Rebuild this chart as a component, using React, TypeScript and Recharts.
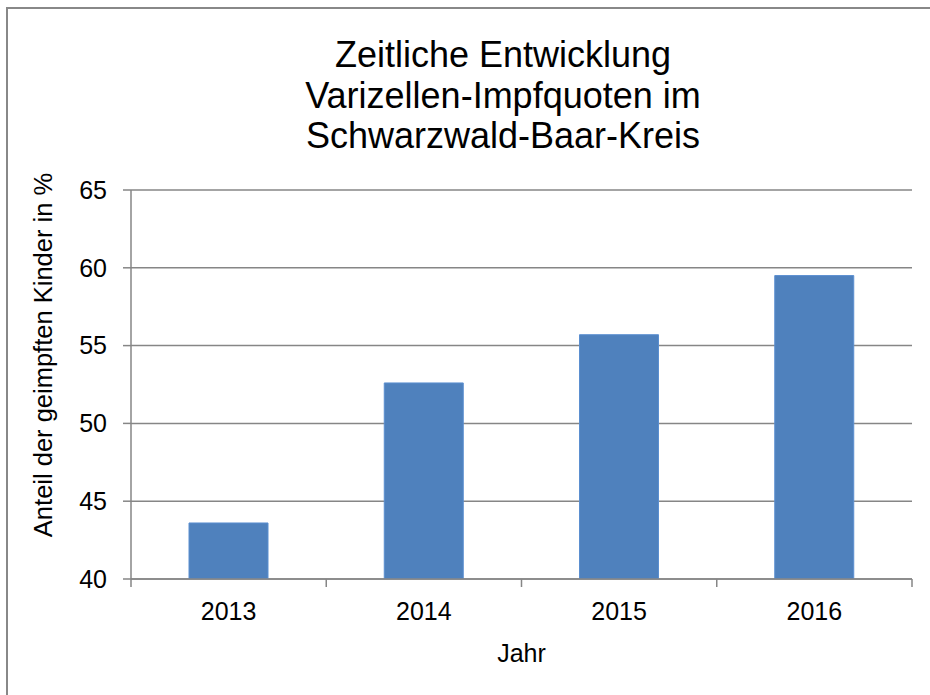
import React from "react";
import { BarChart, Bar, XAxis, YAxis, CartesianGrid } from "recharts";

const years = ["2013", "2014", "2015", "2016"];
const quotes = [43.6, 52.6, 55.7, 59.5];
const yTicks = [40, 45, 50, 55, 60, 65];
const titleLines = ["Zeitliche Entwicklung", "Varizellen-Impfquoten im", "Schwarzwald-Baar-Kreis"];
const yLabel = "Anteil der geimpften Kinder in %";
const xLabel = "Jahr";

const data = years.map((y, i) => ({ year: y, value: quotes[i] }));

const W = 930;
const H = 695;
const MARGIN = { top: 190, right: 18, bottom: 16, left: 0 };
const YAXIS_W = 131;
const XAXIS_H = 100;
const FONT = '"Liberation Sans", Arial, sans-serif';
const GRID = "#868686";
const band = (W - MARGIN.left - MARGIN.right - YAXIS_W) / years.length;

const XTick = (props: any) => {
  const { x, y, payload, index } = props;
  return (
    <g>
      <line x1={x - band / 2} y1={y} x2={x - band / 2} y2={y + 8} stroke={GRID} strokeWidth={1.5} />
      {index === years.length - 1 && (
        <line x1={x + band / 2} y1={y} x2={x + band / 2} y2={y + 8} stroke={GRID} strokeWidth={1.5} />
      )}
      <text x={x} y={y + 41} textAnchor="middle" fontSize={25} fontFamily={FONT} fill="#000">
        {payload.value}
      </text>
    </g>
  );
};

export default function App() {
  return (
    <div style={{ position: "relative", width: W, height: H, overflow: "hidden", background: "#fff" }}>
      <style>{"html,body{margin:0;padding:0;overflow:hidden;background:#fff}"}</style>
      <div style={{ position: "absolute", left: 0, top: 0 }}>
        <BarChart width={W} height={H} data={data} margin={MARGIN} barSize={79}>
          <CartesianGrid vertical={false} stroke={GRID} strokeWidth={1.5} />
          <XAxis
            dataKey="year"
            height={XAXIS_H}
            tickSize={0}
            tickMargin={0}
            tickLine={false}
            axisLine={{ stroke: GRID, strokeWidth: 1.5 }}
            tick={<XTick />}
            interval={0}
          />
          <YAxis
            width={YAXIS_W}
            domain={[40, 65]}
            ticks={yTicks}
            allowDataOverflow
            tickSize={8}
            tickMargin={16}
            tickLine={{ stroke: GRID, strokeWidth: 1.5 }}
            axisLine={{ stroke: GRID, strokeWidth: 1.5 }}
            tick={{ fontSize: 25, fill: "#000", fontFamily: FONT }}
            interval={0}
          />
          <Bar dataKey="value" fill="#4F81BD" stroke="#5B8FD0" strokeWidth={1} isAnimationActive={false} />
        </BarChart>
      </div>
      <svg
        width={W}
        height={H}
        style={{ position: "absolute", left: 0, top: 0, pointerEvents: "none" }}
      >
        <line x1={7} y1={7} x2={7} y2={H} stroke="#888" strokeWidth={2} />
        <line x1={6} y1={8} x2={W} y2={8} stroke="#888" strokeWidth={2} />
        {titleLines.map((t, i) => (
          <text key={t} x={503} y={67 + i * 40.5} textAnchor="middle" fontSize={36} fontFamily={FONT} fill="#000">
            {t}
          </text>
        ))}
        <text
          transform="translate(51.5,355) rotate(-90)"
          textAnchor="middle"
          fontSize={25.5}
          fontFamily={FONT}
          fill="#000"
        >
          {yLabel}
        </text>
        <text x={521.5} y={662} textAnchor="middle" fontSize={25} fontFamily={FONT} fill="#000">
          {xLabel}
        </text>
      </svg>
    </div>
  );
}
